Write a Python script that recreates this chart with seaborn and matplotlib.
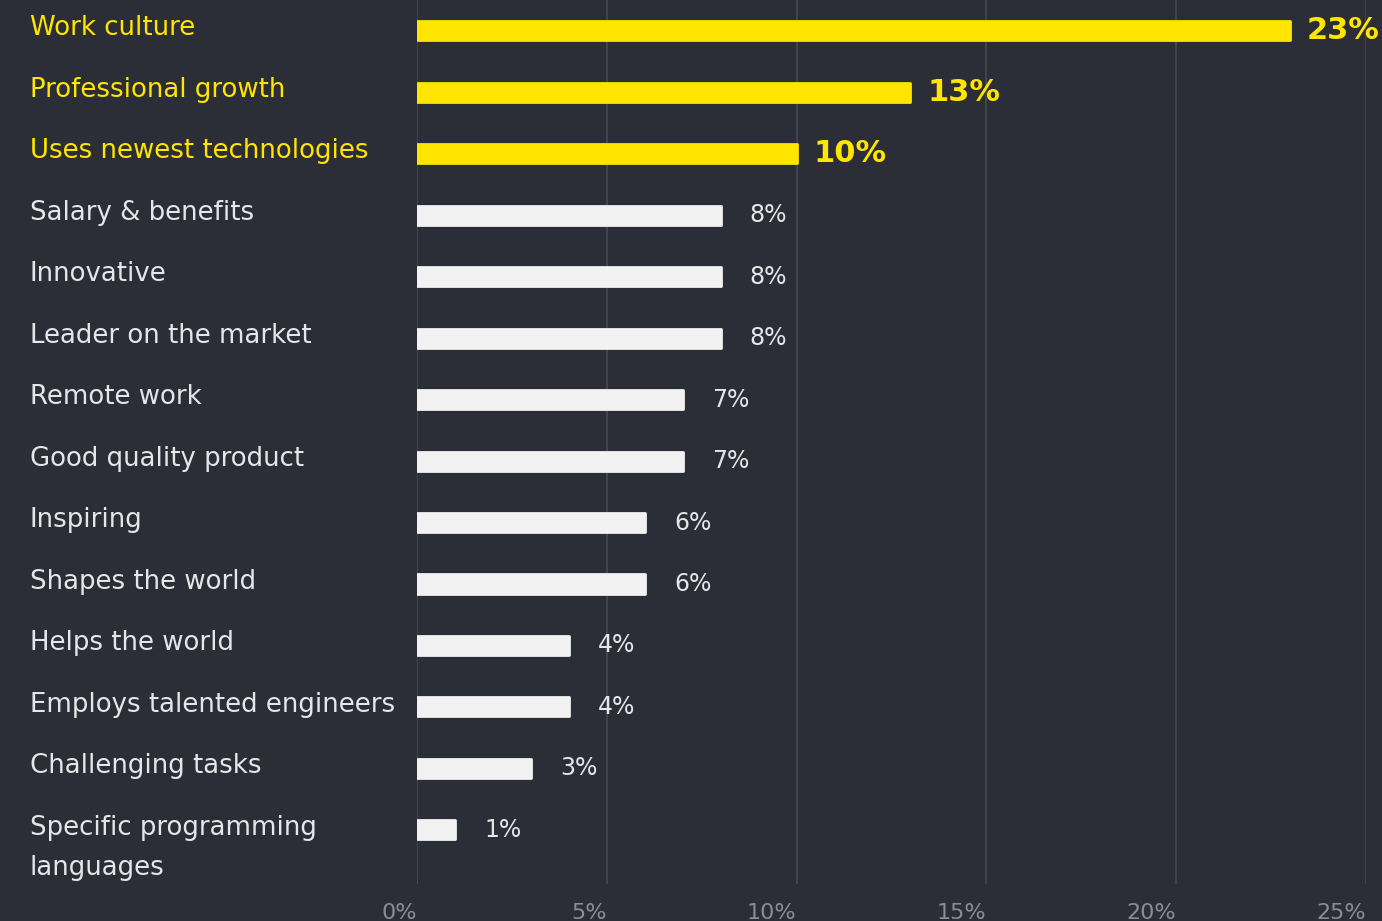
import matplotlib
matplotlib.use("Agg")
import matplotlib.pyplot as plt
import matplotlib.transforms as mtransforms
import seaborn as sns
import pandas as pd

# Survey results: what makes an employer attractive (share of answers, %)
categories = [
    "Work culture",
    "Professional growth",
    "Uses newest technologies",
    "Salary & benefits",
    "Innovative",
    "Leader on the market",
    "Remote work",
    "Good quality product",
    "Inspiring",
    "Shapes the world",
    "Helps the world",
    "Employs talented engineers",
    "Challenging tasks",
    "Specific programming\nlanguages",
]
values = [23, 13, 10, 8, 8, 8, 7, 7, 6, 6, 4, 4, 3, 1]
highlighted = [True, True, True] + [False] * 11
x_ticks = [0, 5, 10, 15, 20, 25]
x_tick_labels = ["0%", "5%", "10%", "15%", "20%", "25%"]

BG = "#2b2d37"
YELLOW = "#ffe500"
WHITE = "#f2f2f2"
LABEL_WHITE = "#e6e6e8"
GRID = "#4a4c55"
TICK = "#8b8d95"

df = pd.DataFrame({"category": categories, "value": values,
                   "group": ["top" if h else "rest" for h in highlighted]})

sns.set_theme(style="dark")
plt.rcParams["font.family"] = ["DejaVu Sans"]

fig = plt.figure(figsize=(13.82, 9.21), dpi=100, facecolor=BG)
ax = fig.add_axes([417 / 1382, 1 - 884 / 921, (1366 - 417) / 1382, 884 / 921])
ax.set_facecolor(BG)

sns.barplot(data=df, x="value", y="category", hue="group",
            palette={"top": YELLOW, "rest": WHITE}, order=categories,
            hue_order=["top", "rest"], dodge=False, width=0.31,
            legend=False, ax=ax, saturation=1)

# Soften bar corners with a matching rounded outline
for p in ax.patches:
    p.set_edgecolor(p.get_facecolor())
    p.set_linewidth(2)
    p.set_joinstyle("round")

ax.set_xlim(0, 25)
ax.set_ylim(13.88, -0.5)
ax.set_xticks(x_ticks)
ax.set_xticklabels(x_tick_labels)
ax.set_yticks([])
ax.set_xlabel("")
ax.set_ylabel("")
for s in ax.spines.values():
    s.set_visible(False)
ax.grid(False)
for xt in x_ticks:
    ax.axvline(xt, color=GRID, lw=1.1, zorder=0)

ax.tick_params(axis="x", length=0, pad=14, labelsize=16, labelcolor=TICK)
for lbl in ax.get_xticklabels():
    lbl.set_horizontalalignment("right")

# Category labels on the left
blend = mtransforms.blended_transform_factory(fig.transFigure, ax.transData)
for i, (cat, hl) in enumerate(zip(categories, highlighted)):
    ax.annotate(cat, xy=(30 / 1382, i), xycoords=blend,
                xytext=(0, 11), textcoords="offset points", va="top", ha="left",
                fontsize=18.7, color=YELLOW if hl else LABEL_WHITE,
                linespacing=1.7, annotation_clip=False)

# Value labels at the end of each bar
for i, (v, hl) in enumerate(zip(values, highlighted)):
    if hl:
        ax.annotate(f"{v}%", xy=(v, i), xytext=(12, 0), textcoords="offset points",
                    va="center", ha="left", fontsize=22, fontweight="bold",
                    color=YELLOW, annotation_clip=False)
    else:
        ax.annotate(f"{v}%", xy=(v, i), xytext=(21, 0), textcoords="offset points",
                    va="center", ha="left", fontsize=17, color=LABEL_WHITE,
                    annotation_clip=False)

fig.savefig("out.png", dpi=100, facecolor=BG)
